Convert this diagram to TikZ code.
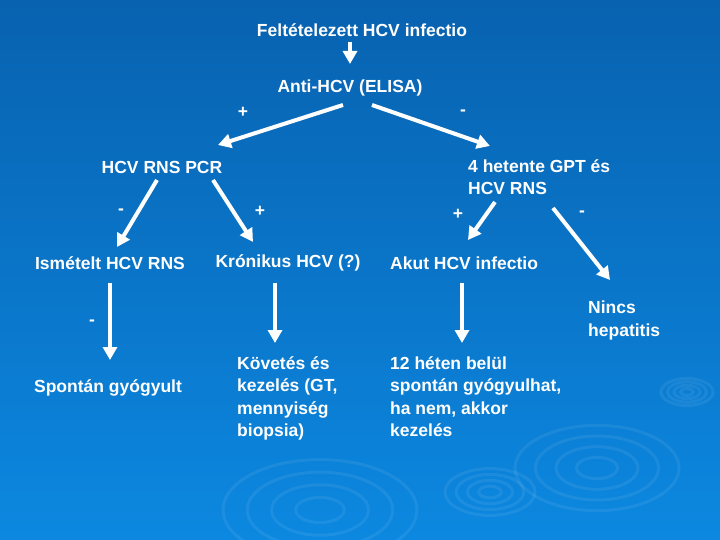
\documentclass[tikz,border=0pt]{standalone}
\usepackage{fontspec}
\setmainfont{Liberation Sans}
\usetikzlibrary{arrows.meta,calc}
\definecolor{bgtop}{RGB}{8,98,176}
\definecolor{bgbot}{RGB}{12,136,224}

\begin{document}
\begin{tikzpicture}[x=1pt,y=-1pt,
  lbl/.style={text=white,font=\fontsize{17.5}{22.5}\selectfont\bfseries,inner sep=0pt},
  txt/.style={lbl,align=left,anchor=north west},
  arr/.style={white,line width=4pt,-{Triangle[width=14pt,length=13pt]}}]
\useasboundingbox (0,0) rectangle (720,540);
\shade[top color=bgtop,bottom color=bgbot] (0,0) rectangle (720,540);
% ripples
\begin{scope}
\clip (0,0) rectangle (720,540);
\foreach \cx/\cy/\r in {320/510/97,490/492/45,597/468/82,687/392/26}
  \foreach \f in {1,0.75,0.5,0.25}
    \draw[white,opacity=0.07,line width=3pt] (\cx,\cy) ellipse ({\f*\r} and {\f*\r*0.52});
\end{scope}

\node[lbl] (susp) at (362,30) {Feltételezett HCV infectio};
\node[lbl] (anti) at (350,88) {Anti-HCV (ELISA)};
\node[lbl] (pcr) at (162,167) {HCV RNS PCR};
\node[txt] (gpt) at (468,159) {4 hetente GPT és\\HCV RNS};
\node[lbl] (ism) at (110,263) {Ismételt HCV RNS};
\node[lbl] (kron) at (288,263) {Krónikus HCV (?)};
\node[lbl,anchor=west] (akut) at (390,263) {Akut HCV infectio};
\node[txt] (ninc) at (588,301) {Nincs\\hepatitis};
\node[lbl] (spont) at (108,388) {Spontán gyógyult};
\node[txt] (kov) at (237,356) {Követés és\\kezelés (GT,\\mennyiség\\biopsia)};
\node[txt] (het) at (390,356) {12 héten belül\\spontán gyógyulhat,\\ha nem, akkor\\kezelés};

\node[lbl] (p1) at (243,112) {+};
\node[lbl] (m1) at (463,113) {-};
\node[lbl] (m2) at (121,212) {-};
\node[lbl] (p2) at (260,211) {+};
\node[lbl] (p3) at (458,214) {+};
\node[lbl] (m3) at (582,214) {-};
\node[lbl] (m4) at (92,323) {-};

\draw[arr] ($(susp)+(-12,12)$) -- ($(anti)+(0,-24)$);
\draw[arr] ($(anti)+(-7,17)$) -- ($(pcr)+(56,-22)$);
\draw[arr] ($(anti)+(22,17)$) -- ($(gpt.north west)+(22,-13)$);
\draw[arr] ($(pcr)+(-5,13)$) -- ($(ism)+(7,-16)$);
\draw[arr] ($(pcr)+(51,13)$) -- ($(kron)+(-35,-21)$);
\draw[arr] ($(gpt.north west)+(27,43)$) -- ($(akut.west)+(78,-23)$);
\draw[arr] ($(gpt.north west)+(85,49)$) -- ($(ninc.north west)+(22,-21)$);
\draw[arr] ($(ism)+(0,20)$) -- ($(spont)+(2,-28)$);
\draw[arr] ($(kron)+(-13,20)$) -- ($(kov.north west)+(38,-13)$);
\draw[arr] ($(akut.west)+(72,20)$) -- ($(het.north west)+(72,-13)$);
\end{tikzpicture}
\end{document}
